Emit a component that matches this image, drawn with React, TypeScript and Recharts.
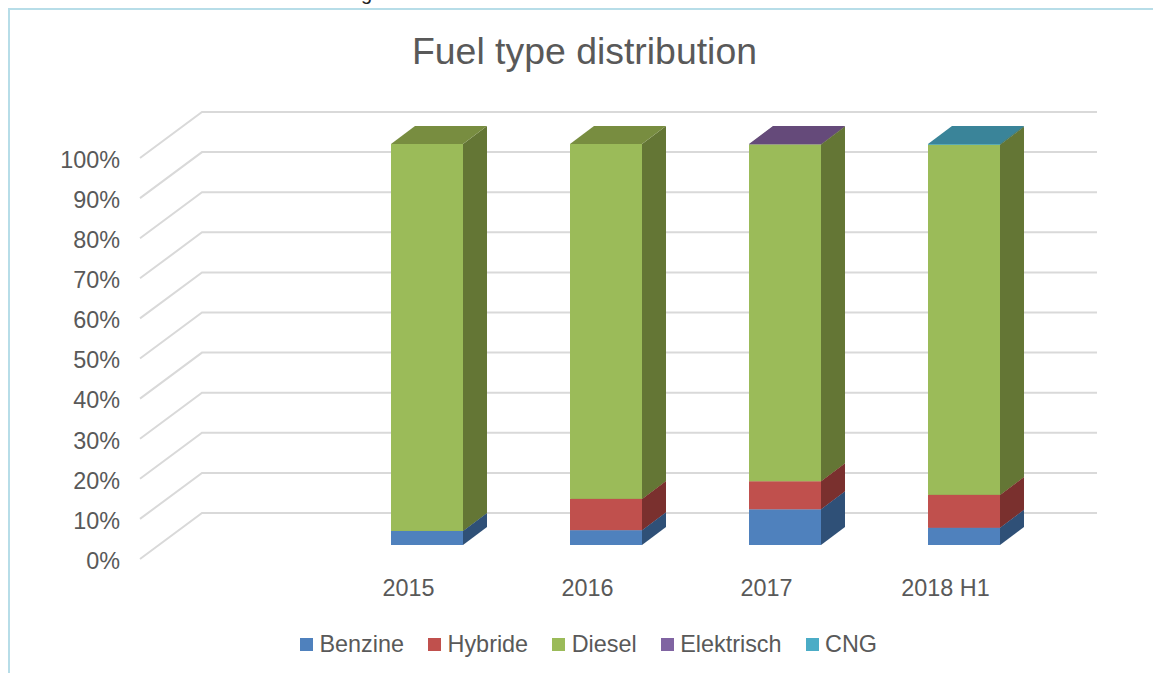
import { BarChart, Bar, XAxis, YAxis, CartesianGrid, Legend } from 'recharts';

// first slot is empty in the source chart
const categories = [' ', '2015', '2016', '2017', '2018 H1'];
const benzine = [0, 3.5, 3.7, 8.9, 4.3];
const hybride = [0, 0, 7.8, 7.0, 8.2];
const diesel = [0, 96.5, 88.5, 84.0, 87.3];
const elektrisch = [0, 0, 0, 0.1, 0];
const cng = [0, 0, 0, 0, 0.2];
const yTicks = [0, 10, 20, 30, 40, 50, 60, 70, 80, 90, 100];

const rows = categories.map((name, i) => ({
  name,
  Benzine: benzine[i],
  Hybride: hybride[i],
  Diesel: diesel[i],
  Elektrisch: elektrisch[i],
  CNG: cng[i],
}));

const series = [
  { key: 'Benzine', front: '#4f81bd', side: '#2f5077', top: '#3c6494' },
  { key: 'Hybride', front: '#c0504d', side: '#7a302e', top: '#984240' },
  { key: 'Diesel', front: '#9bbb59', side: '#647635', top: '#788d40' },
  { key: 'Elektrisch', front: '#8064a2', side: '#4f3c66', top: '#654a7a' },
  { key: 'CNG', front: '#4bacc6', side: '#2c6d7e', top: '#3a8499' },
];

const textColor = '#595959';
const fontFamily = '"Liberation Sans", Arial, sans-serif';

// oblique projection of the 3D chart
const floorDx = 62;
const floorDy = 46;
const barDx = 18;
const barDy = 14;
const depthDx = 24;
const depthDy = 18;

function gridLine(props: any) {
  const { x1, x2, y1 } = props;
  const backY = y1 - floorDy;
  return (
    <polyline
      key={`grid-${y1}`}
      points={`${x1},${y1} ${x1 + floorDx},${backY} ${x2 + floorDx},${backY}`}
      fill="none"
      stroke="#d9d9d9"
      strokeWidth={2}
    />
  );
}

function box3d(side: string, top: string) {
  return (props: any) => {
    const { x, y, width, height, fill } = props;
    if (!height || height <= 0) return <g />;
    const l = x + barDx;
    const r = l + width;
    const t = y - barDy;
    const b = t + height;
    return (
      <g>
        <polygon
          points={`${r},${t} ${r + depthDx},${t - depthDy} ${r + depthDx},${b - depthDy} ${r},${b}`}
          fill={side}
        />
        <polygon
          points={`${l},${t} ${l + depthDx},${t - depthDy} ${r + depthDx},${t - depthDy} ${r},${t}`}
          fill={top}
        />
        <rect x={l} y={t} width={width} height={height} fill={fill} />
      </g>
    );
  };
}

function LegendRow({ payload }: any) {
  return (
    <div style={{ display: 'flex', gap: 24, fontFamily, fontSize: 23.4, color: textColor, whiteSpace: 'nowrap' }}>
      {(payload || []).map((item: any) => (
        <div key={item.value} style={{ display: 'flex', alignItems: 'center', gap: 6.5 }}>
          <span style={{ width: 13, height: 13, background: item.color, display: 'inline-block' }} />
          <span>{item.value}</span>
        </div>
      ))}
    </div>
  );
}

export default function App() {
  return (
    <div style={{ position: 'absolute', left: 0, top: 0, width: 1153, height: 673, overflow: 'hidden', background: '#fff' }}>
      {/* bottom of a caption cut off by the crop */}
      <div style={{ position: 'absolute', left: 361, top: -17, fontFamily, fontSize: 20, lineHeight: '20px', color: '#222' }}>
        g
      </div>
      <div
        style={{
          position: 'absolute',
          left: 8,
          top: 8,
          width: 1200,
          height: 700,
          border: '2px solid #b7dde8',
        }}
      />
      <div
        style={{
          position: 'absolute',
          left: 0,
          right: 0,
          top: 29,
          paddingLeft: 16,
          textAlign: 'center',
          fontFamily,
          fontSize: 37.4,
          lineHeight: '44px',
          color: textColor,
        }}
      >
        Fuel type distribution
      </div>
      <BarChart
        width={1153}
        height={673}
        data={rows}
        barSize={72}
        margin={{ top: 158, right: 118, bottom: 74, left: 80 }}
        style={{ position: 'absolute', left: 0, top: 0 }}
      >
        <CartesianGrid vertical={false} horizontal={gridLine} />
        <XAxis
          dataKey="name"
          interval={0}
          axisLine={false}
          tickLine={false}
          tickSize={0}
          tickMargin={20}
          height={40}
          tick={{ fill: textColor, fontSize: 23.4, fontFamily }}
        />
        <YAxis
          type="number"
          domain={[0, 100]}
          ticks={yTicks}
          width={60}
          interval={0}
          axisLine={false}
          tickLine={false}
          tickSize={0}
          tickMargin={20}
          tickFormatter={(v: number) => `${v}%`}
          tick={{ fill: textColor, fontSize: 23.4, fontFamily, dy: 1.5 }}
        />
        <Legend
          layout="horizontal"
          align="center"
          verticalAlign="middle"
          itemSorter={null}
          wrapperStyle={{ left: 300, top: 631, width: 620 }}
          content={<LegendRow />}
        />
        {series.map((s) => (
          <Bar
            key={s.key}
            dataKey={s.key}
            name={s.key}
            stackId="fuel"
            fill={s.front}
            isAnimationActive={false}
            shape={box3d(s.side, s.top)}
          />
        ))}
      </BarChart>
    </div>
  );
}
